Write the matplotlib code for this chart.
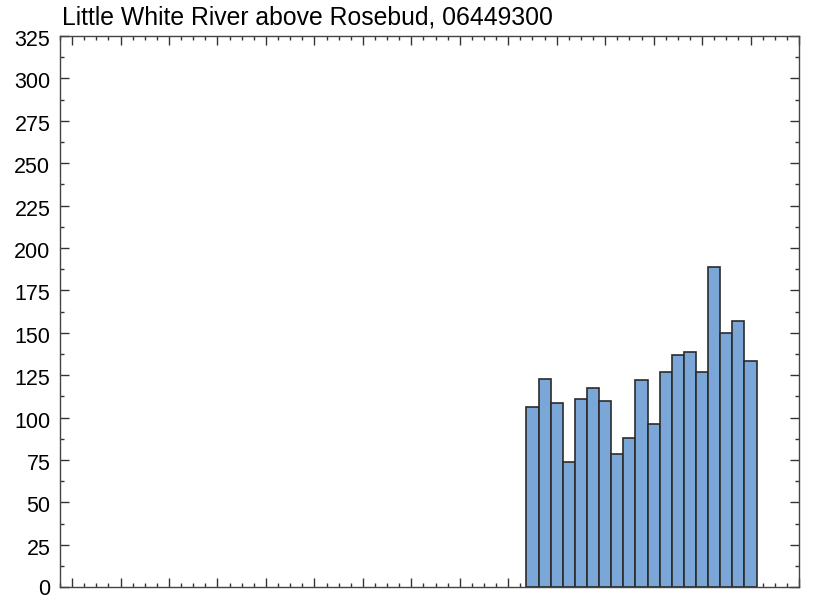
import matplotlib
matplotlib.use("Agg")
import matplotlib.pyplot as plt
from matplotlib.ticker import MultipleLocator, NullFormatter
from matplotlib.transforms import ScaledTranslation

title = "Little White River above Rosebud, 06449300"
years = [1998, 1999, 2000, 2001, 2002, 2003, 2004, 2005, 2006, 2007,
         2008, 2009, 2010, 2011, 2012, 2013, 2014, 2015, 2016]
values = [106.5, 122.8, 108.8, 74.1, 111.0, 117.7, 109.8, 78.8, 88.0, 122.4,
          96.1, 126.9, 137.1, 138.9, 126.9, 188.7, 149.8, 157.2, 133.6]
yticks = list(range(0, 326, 25))

plt.rcParams['font.family'] = ['Liberation Sans', 'DejaVu Sans']

fig = plt.figure(figsize=(8.13, 6.0), dpi=100)
ax = fig.add_axes([60/813, 1-587.3/600, (799-60)/813, (587.3-36)/600])

ax.bar(years, values, width=1.0, color='#7aa6d8', edgecolor='#2b2b2b', linewidth=1.2, zorder=2)

ax.set_xlim(1959, 2020)
ax.set_ylim(0, 325)
ax.set_yticks(yticks)
ax.yaxis.set_minor_locator(MultipleLocator(12.5))
ax.xaxis.set_major_locator(MultipleLocator(4))
ax.xaxis.set_minor_locator(MultipleLocator(1))
ax.xaxis.set_major_formatter(NullFormatter())

for s in ax.spines.values():
    s.set_color('#444444')
    s.set_linewidth(1.0)

ax.tick_params(which='both', direction='in', top=True, right=True, color='#333333', width=1.0)
ax.tick_params(which='major', length=6.2)
ax.tick_params(which='minor', length=2.9)
ax.tick_params(axis='y', which='major', labelsize=15.5, pad=7, labelcolor='black')
ax.tick_params(axis='x', labelbottom=False)

shift = ScaledTranslation(0, -0.02, fig.dpi_scale_trans)
for lab in ax.get_yticklabels()[1:]:
    lab.set_transform(lab.get_transform() + shift)

fig.text(62/813, 1-17.5/600, title, ha='left', va='center', fontsize=17.8, color='black')

fig.savefig("out.png", dpi=100)
